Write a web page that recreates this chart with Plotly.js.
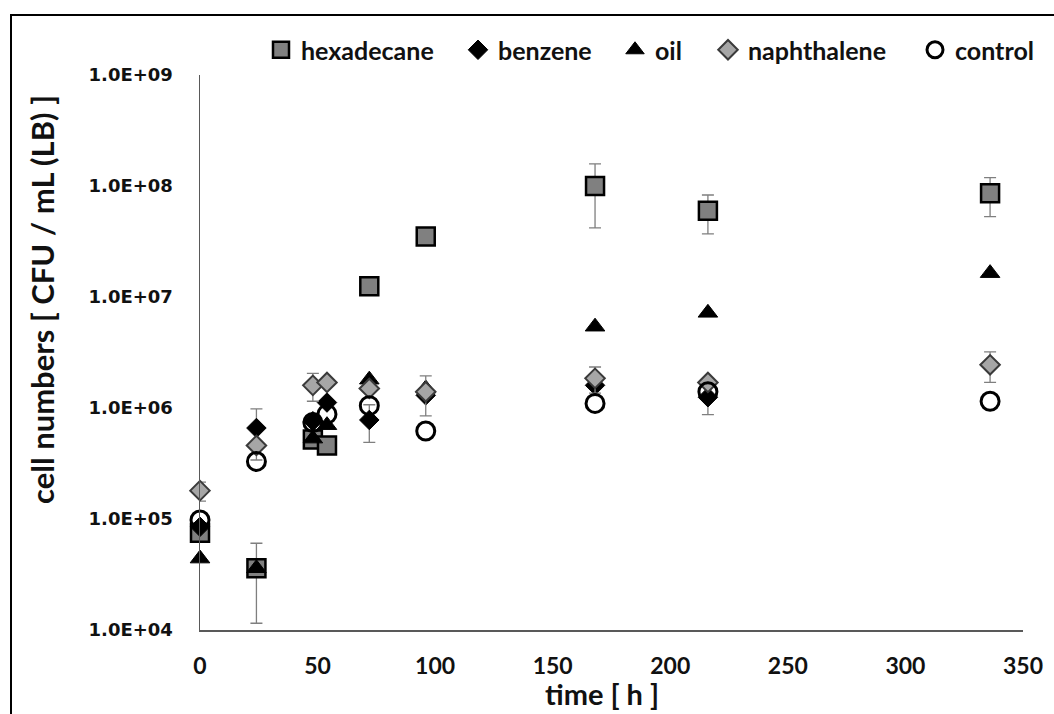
<!DOCTYPE html>
<html>
<head>
<meta charset="utf-8">
<script src="https://cdn.plot.ly/plotly-3.0.1.min.js"></script>
<style>
  html, body { margin: 0; padding: 0; background: #fff; }
  #chart { width: 1054px; height: 714px; }
</style>
</head>
<body>
<div id="chart"></div>
<script>
// Sampling times (hours)
const times = [0, 24, 48, 54, 72, 96, 168, 216, 336];
const benzeneTimes = [0, 24, 48, 54, 72, 96, 168, 216];

// Cell counts (CFU / mL) and their error margins
const hexadecane     = [7.5e4, 3.6e4, 5.2e5, 4.6e5, 1.25e7, 3.5e7, 1.0e8, 6.0e7, 8.6e7];
const hexadecaneErr  = [0, 2.45e4, 0, 0, 0, 0, 5.8e7, 2.3e7, 3.3e7];
const benzene        = [8.5e4, 6.6e5, 7.6e5, 1.12e6, 7.8e5, 1.3e6, 1.6e6, 1.25e6];
const benzeneErr     = [0, 3.2e5, 0, 0, 2.9e5, 0, 0, 3.8e5];
const oil            = [4.4e4, 3.6e4, 5.3e5, 7.0e5, 1.8e6, 1.5e6, 5.4e6, 7.2e6, 1.64e7];
const naphthalene    = [1.8e5, 4.6e5, 1.6e6, 1.7e6, 1.5e6, 1.4e6, 1.85e6, 1.7e6, 2.45e6];
const naphthaleneErr = [3.5e4, 0, 4.5e5, 0, 0, 5.5e5, 4.9e5, 0, 7.5e5];
const control        = [9.8e4, 3.3e5, 7.4e5, 8.8e5, 1.05e6, 6.2e5, 1.1e6, 1.4e6, 1.15e6];

// Axis ticks and titles
const yTickVals = [1e4, 1e5, 1e6, 1e7, 1e8, 1e9];
const yTickText = ['1.0E+04', '1.0E+05', '1.0E+06', '1.0E+07', '1.0E+08', '1.0E+09'];
const xTickVals = [0, 50, 100, 150, 200, 250, 300, 350];
const xTitle = 'time [ h ]';
const yTitle = 'cell numbers [ CFU / mL (LB) ]';

const errStyle = (arr) => ({
  type: 'data', array: arr, visible: true,
  color: '#7f7f7f', thickness: 1.3, width: 6
});

// One legend box per series so each entry sits at its own spot along the top
const legendFont = { family: 'Lato', size: 25, color: '#111', weight: 'bold' };
const legendBox = (x) => ({
  x: x, xanchor: 'left', y: 1.045, yanchor: 'middle',
  bgcolor: 'rgba(0,0,0,0)', borderwidth: 0, font: legendFont,
  orientation: 'h', indentation: -8
});

const traces = [
  {
    name: 'hexadecane', x: times, y: hexadecane, type: 'scatter', mode: 'markers',
    legend: 'legend', cliponaxis: false,
    marker: { symbol: 'square', size: 18, color: '#808080', line: { color: '#000', width: 2.5 } },
    error_y: errStyle(hexadecaneErr)
  },
  {
    name: 'benzene', x: benzeneTimes, y: benzene, type: 'scatter', mode: 'markers',
    legend: 'legend2', cliponaxis: false,
    marker: { symbol: 'diamond', size: 15, color: '#000', line: { color: '#000', width: 1 } },
    error_y: errStyle(benzeneErr)
  },
  {
    name: 'oil', x: times, y: oil, type: 'scatter', mode: 'markers',
    legend: 'legend3', cliponaxis: false,
    marker: { symbol: 'triangle-up', size: 17, color: '#000', line: { color: '#000', width: 1 } }
  },
  {
    name: 'naphthalene', x: times, y: naphthalene, type: 'scatter', mode: 'markers',
    legend: 'legend4', cliponaxis: false,
    marker: { symbol: 'diamond', size: 15, color: '#a6a6a6', line: { color: '#3a3a3a', width: 2 } },
    error_y: errStyle(naphthaleneErr)
  },
  {
    name: 'control', x: times, y: control, type: 'scatter', mode: 'markers',
    legend: 'legend5', cliponaxis: false,
    marker: { symbol: 'circle-open', size: 18, color: '#000', line: { color: '#000', width: 3 } }
  }
];

const titleFont = { family: 'Lato', size: 29, color: '#111', weight: 'bold' };

const layout = {
  width: 1054, height: 714,
  margin: { l: 200, r: 31, t: 75, b: 84 },
  paper_bgcolor: '#fff', plot_bgcolor: '#fff',
  showlegend: true,
  legend:  legendBox((269 - 200) / 823),
  legend2: legendBox((466 - 200) / 823),
  legend3: legendBox((623 - 200) / 823),
  legend4: legendBox((716 - 200) / 823),
  legend5: legendBox((923 - 200) / 823),
  xaxis: {
    range: [0, 350], tickvals: xTickVals, ticks: '', showgrid: false, zeroline: false,
    showline: true, linecolor: '#595959', linewidth: 1.5,
    tickfont: { family: 'Lato', size: 23, color: '#111', weight: 'bold' },
    ticklabelstandoff: 15
  },
  yaxis: {
    type: 'log', range: [4, 9], tickvals: yTickVals, ticktext: yTickText, ticks: '',
    showgrid: false, zeroline: false,
    showline: true, linecolor: '#595959', linewidth: 1.5,
    tickfont: { family: 'DejaVu Sans', size: 18, color: '#111', weight: 'bold' },
    ticklabelstandoff: 22
  },
  // Axis titles placed as paper-anchored text
  annotations: [
    {
      text: xTitle, xref: 'paper', yref: 'paper',
      x: (602 - 200) / 823, y: -(693 - 630) / 555, xanchor: 'center', yanchor: 'middle',
      showarrow: false, font: titleFont
    },
    {
      text: yTitle, xref: 'paper', yref: 'paper', textangle: -90,
      x: (42 - 200) / 823, y: (630 - 300) / 555, xanchor: 'center', yanchor: 'middle',
      showarrow: false, font: Object.assign({}, titleFont, { size: 31 })
    }
  ],
  // Chart-area frame
  shapes: [{
    type: 'rect', xref: 'paper', yref: 'paper',
    xsizemode: 'pixel', ysizemode: 'pixel', xanchor: 0, yanchor: 1,
    x0: -189, x1: 900, y0: -800, y1: 60,
    line: { color: '#000', width: 2 }, fillcolor: 'rgba(0,0,0,0)', layer: 'below'
  }]
};

Plotly.newPlot('chart', traces, layout, { displayModeBar: false, staticPlot: true });
</script>
</body>
</html>
